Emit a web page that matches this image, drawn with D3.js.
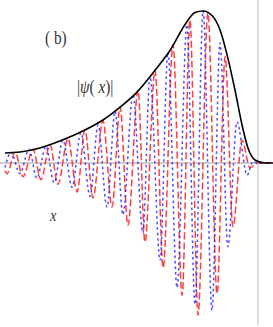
<!DOCTYPE html>
<html>
<head>
<meta charset="utf-8">
<script src="https://cdn.jsdelivr.net/npm/d3@7"></script>
<style>
  body { margin: 0; background: #fff; }
  svg { display: block; }
  text { font-family: "Liberation Serif", "DejaVu Serif", serif; fill: #333; }
</style>
</head>
<body>
<svg width="273" height="327"></svg>
<script>
// envelope |psi(x)|
const envX = [-10, -9.41, -8.62, -7.83, -6.84, -6.13, -5.45, -4.82, -4.07, -3.48, -2.85, -2.49, -2.17, -1.82, -1.5, -1.19, -0.91, -0.63, -0.4, -0.12, 0.28, 0.59];
const envY = [0.066, 0.072, 0.099, 0.145, 0.217, 0.283, 0.368, 0.46, 0.61, 0.74, 0.92, 0.99, 1.0, 0.97, 0.875, 0.69, 0.48, 0.25, 0.10, 0.02, 0, 0];

// red dashed curve (turning points)
const redX = [-10, -9.92, -9.6, -9.29, -8.89, -8.58, -8.22, -7.91, -7.51, -7.15, -6.84, -6.52, -6.13, -5.77, -5.45, -5.14, -4.74, -4.47, -4.07, -3.75, -3.36, -3.0, -2.69, -2.37, -1.98, -1.62, -1.3, -0.99, -0.63, -0.32, 0, 0.47];
const redY = [-0.05, -0.07, 0.07, -0.09, 0.09, -0.11, 0.12, -0.14, 0.16, -0.19, 0.22, -0.23, 0.28, -0.29, 0.37, -0.41, 0.48, -0.52, 0.61, -0.69, 0.78, -0.87, 0.94, -1.0, 0.99, -0.86, 0.70, -0.42, 0.15, -0.03, 0, 0];

// blue dotted curve (turning points)
const blueX = [-10, -9.76, -9.41, -9.05, -8.74, -8.38, -8.06, -7.71, -7.35, -7.0, -6.64, -6.32, -5.97, -5.65, -5.34, -4.94, -4.55, -4.27, -3.87, -3.56, -3.2, -2.81, -2.49, -2.17, -1.82, -1.5, -1.19, -0.83, -0.43, -0.2, 0, 0.47];
const blueY = [-0.03, 0.07, -0.07, 0.09, -0.10, 0.11, -0.13, 0.15, -0.16, 0.20, -0.22, 0.25, -0.29, 0.34, -0.34, 0.45, -0.46, 0.57, -0.64, 0.73, -0.82, 0.91, -0.93, 1.0, -0.97, 0.79, -0.55, 0.27, -0.08, 0.01, 0, 0];

const svg = d3.select("svg");
const x = d3.scaleLinear().domain([-10, 0]).range([5, 258]);
const y = d3.scaleLinear().domain([0, 1]).range([163, 11]);

const line = d3.line().x(d => x(d[0])).y(d => y(d[1])).curve(d3.curveMonotoneX);
const pts = (a, b) => a.map((v, i) => [v, b[i]]);

// axes
svg.append("line").attr("x1", 0).attr("x2", 273).attr("y1", y(0)).attr("y2", y(0))
  .attr("stroke", "#999").attr("stroke-width", 1);
svg.append("line").attr("x1", x(0)).attr("x2", x(0)).attr("y1", 0).attr("y2", 325)
  .attr("stroke", "#bbb").attr("stroke-width", 1);

svg.append("path").datum(pts(redX, redY)).attr("d", line)
  .attr("fill", "none").attr("stroke", "#ff2a2a").attr("stroke-opacity", 0.9)
  .attr("stroke-width", 1.5).attr("stroke-dasharray", "7,3");

svg.append("path").datum(pts(blueX, blueY)).attr("d", line)
  .attr("fill", "none").attr("stroke", "#2a2aff").attr("stroke-opacity", 0.85)
  .attr("stroke-width", 1.5).attr("stroke-dasharray", "2.5,3");

svg.append("path").datum(pts(envX, envY)).attr("d", line)
  .attr("fill", "none").attr("stroke", "#000").attr("stroke-width", 1.6);

// labels (narrow serif look)
svg.append("text").attr("transform", "translate(45,44) scale(0.85,1)")
  .style("font-size", "18px").text("( b)");
svg.append("text").attr("transform", "translate(77,93) scale(0.85,1)")
  .style("font-size", "18px")
  .html('|<tspan font-style="italic">ψ</tspan>( <tspan font-style="italic">x</tspan>)|');
svg.append("text").attr("transform", "translate(50,221) scale(0.9,1)")
  .style("font-size", "16px").style("font-style", "italic").text("x");
</script>
</body>
</html>
